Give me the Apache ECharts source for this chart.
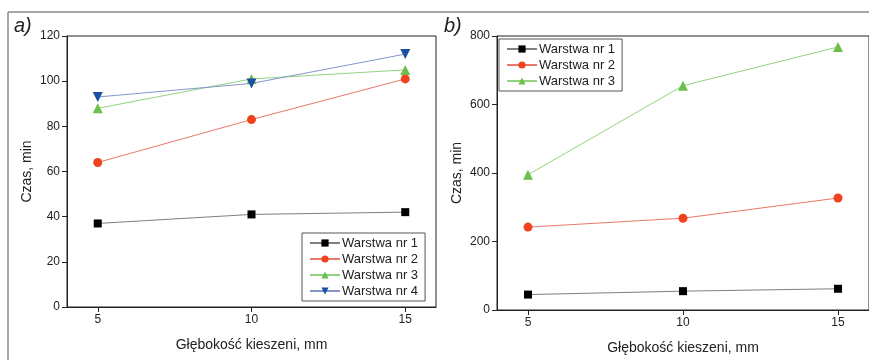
<!DOCTYPE html>
<html>
<head>
<meta charset="utf-8">
<script src="https://cdn.jsdelivr.net/npm/echarts@6/dist/echarts.min.js"></script>
<style>
  html, body { margin: 0; padding: 0; background: #fff; }
  #chart { width: 869px; height: 360px; }
</style>
</head>
<body>
<div id="chart"></div>
<script>
const depths = [5, 10, 15];
const layerNames = ["Warstwa nr 1", "Warstwa nr 2", "Warstwa nr 3", "Warstwa nr 4"];

// panel a)
const aLayer1 = [37, 41, 42];
const aLayer2 = [64, 83, 101];
const aLayer3 = [88, 101, 105];
const aLayer4 = [93, 99, 112];

// panel b)
const bLayer1 = [45, 55, 62];
const bLayer2 = [242, 268, 327];
const bLayer3 = [395, 655, 768];

const STYLES = [
  { symbol: "rect", size: 8, marker: "#000000", line: "#808080", rotate: 0 },
  { symbol: "circle", size: 9, marker: "#f0421e", line: "#e87a6a", rotate: 0 },
  { symbol: "triangle", size: 10, marker: "#6bbf4a", line: "#93d37f", rotate: 0 },
  { symbol: "triangle", size: 10, marker: "#1b4fa3", line: "#8496cc", rotate: 180 },
];

const FONT = "Liberation Sans, Arial, sans-serif";
const TXT = "#222";

function makeSeries(values, i, grid) {
  const s = STYLES[i];
  return {
    name: layerNames[i],
    type: "line",
    xAxisIndex: grid,
    yAxisIndex: grid,
    data: depths.map((d, k) => [d, values[k]]),
    symbol: s.symbol,
    symbolSize: s.size,
    symbolRotate: s.rotate,
    showAllSymbol: true,
    itemStyle: { color: s.marker },
    lineStyle: { color: s.line, width: 1 },
    emphasis: { disabled: true },
    animation: false,
  };
}

function xAxis(grid) {
  return {
    type: "value",
    gridIndex: grid,
    min: 4,
    max: 16,
    name: "Głębokość kieszeni, mm",
    nameLocation: "middle",
    nameGap: 31,
    nameTextStyle: { fontFamily: FONT, fontSize: 14, color: TXT },
    axisLine: { lineStyle: { color: "#222", width: 1 } },
    axisTick: { show: true, length: 5, inside: false, customValues: depths, lineStyle: { color: "#222" } },
    axisLabel: { customValues: depths, fontFamily: FONT, fontSize: 12, color: TXT, margin: 7 },
    splitLine: { show: false },
  };
}

function yAxis(grid, max, interval) {
  return {
    type: "value",
    gridIndex: grid,
    min: 0,
    max: max,
    interval: interval,
    name: "Czas, min",
    nameLocation: "middle",
    nameGap: 33,
    nameTextStyle: { fontFamily: FONT, fontSize: 14, color: TXT },
    axisLine: { show: true, lineStyle: { color: "#222", width: 1 } },
    axisTick: { show: true, length: 5, lineStyle: { color: "#222" } },
    axisLabel: { fontFamily: FONT, fontSize: 12, color: TXT, margin: 7 },
    splitLine: { show: false },
  };
}

function legend(names, left, top) {
  return {
    data: names,
    left: left,
    top: top,
    orient: "vertical",
    itemWidth: 30,
    itemHeight: 9,
    itemGap: 0,
    padding: [2, 7, 2, 7],
    borderColor: "#555",
    borderWidth: 1,
    selectedMode: false,
    textStyle: { fontFamily: FONT, fontSize: 13, color: TXT, lineHeight: 16, padding: [0, 0, 0, -3] },
  };
}

const chart = echarts.init(document.getElementById("chart"), null, { renderer: "canvas" });
chart.setOption({
  backgroundColor: "#fff",
  animation: false,
  grid: [
    { left: 67, top: 36, width: 369, height: 271, show: true, borderColor: "#222", borderWidth: 1, backgroundColor: "transparent" },
    { left: 497, top: 36, width: 374, height: 276, show: true, borderColor: "#222", borderWidth: 1, backgroundColor: "transparent" },
  ],
  xAxis: [xAxis(0), xAxis(1)],
  yAxis: [yAxis(0, 120, 20), yAxis(1, 800, 200)],
  legend: [
    legend(layerNames, 302, 233),
    legend(layerNames.slice(0, 3), 499, 39),
  ],
  graphic: [
    { type: "line", shape: { x1: 8, y1: 12, x2: 869, y2: 12 }, style: { stroke: "#8a8a8a", lineWidth: 1.5 } },
    { type: "line", shape: { x1: 8, y1: 12, x2: 8, y2: 360 }, style: { stroke: "#8a8a8a", lineWidth: 1.5 } },
    { type: "text", left: 14, top: 16, style: { text: "a)", font: "italic 20px " + FONT, fill: "#222" } },
    { type: "text", left: 444, top: 16, style: { text: "b)", font: "italic 20px " + FONT, fill: "#222" } },
  ],
  series: [
    makeSeries(aLayer1, 0, 0),
    makeSeries(aLayer2, 1, 0),
    makeSeries(aLayer3, 2, 0),
    makeSeries(aLayer4, 3, 0),
    makeSeries(bLayer1, 0, 1),
    makeSeries(bLayer2, 1, 1),
    makeSeries(bLayer3, 2, 1),
  ],
});
</script>
</body>
</html>
